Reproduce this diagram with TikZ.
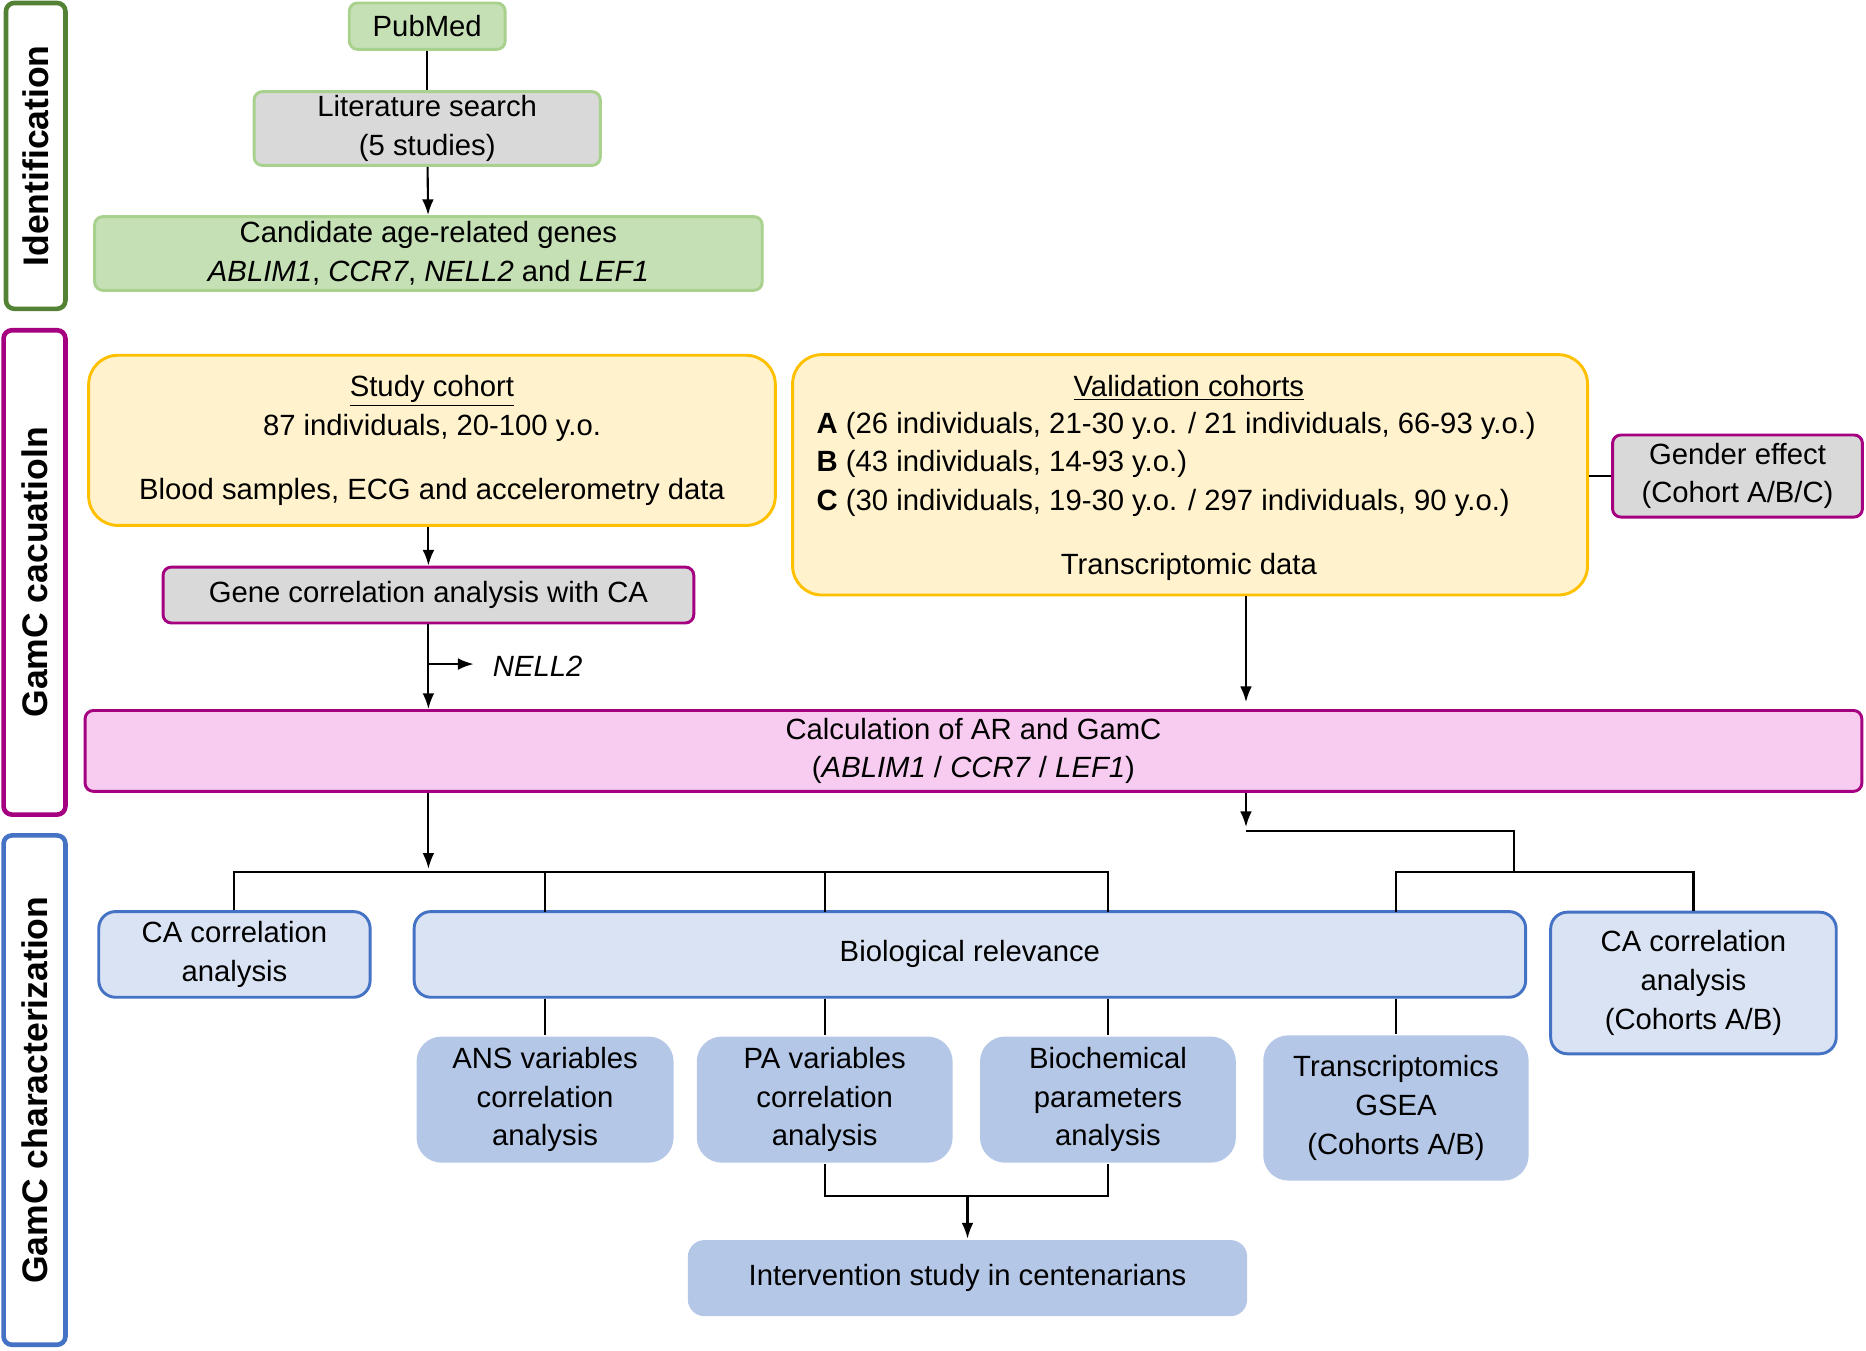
\documentclass[tikz,border=0pt]{standalone}
\usepackage{fontspec}
\setmainfont{Liberation Sans}
\usetikzlibrary{arrows.meta,calc,positioning}
\definecolor{gfill}{HTML}{C5E0B4}
\definecolor{gline}{HTML}{A9D18E}
\definecolor{gdark}{HTML}{548235}
\definecolor{grey}{HTML}{D9D9D9}
\definecolor{yfill}{HTML}{FFF2CC}
\definecolor{yline}{HTML}{FFC000}
\definecolor{mag}{HTML}{A5007F}
\definecolor{pfill}{HTML}{F8CCF0}
\definecolor{bline}{HTML}{4472C4}
\definecolor{bfill}{HTML}{DAE3F3}
\definecolor{bdark}{HTML}{B4C7E7}

\begin{document}
\begin{tikzpicture}[x=0.02cm,y=-0.02cm,>=Latex,
  font=\fontsize{14}{18.5}\selectfont,
  sz/.style 2 args={minimum width=#1*0.02cm,minimum height=#2*0.02cm},
  box/.style={draw,line width=1.4pt,rounded corners=4pt,align=center,inner sep=0pt},
  idbox/.style={box,fill=gfill,draw=gline},
  gbox/.style={box,fill=grey,draw=mag},
  cohort/.style={box,fill=yfill,draw=yline,rounded corners=14pt},
  bbox/.style={box,fill=bfill,draw=bline,rounded corners=8pt},
  dbox/.style={box,fill=bdark,draw=none,rounded corners=12pt},
  side/.style={draw,line width=2.2pt,rounded corners=4pt,fill=white},
  stext/.style={rotate=90,font=\fontsize{17}{18}\selectfont\bfseries},
  conn/.style={line width=1pt}]
  \useasboundingbox (0,0) rectangle (1568,1135);

  % Side labels
  \node[side,draw=gdark,sz={50}{257}] (sid) at (30,131) {};
  \node[stext] at (sid) {Identification};
  \node[side,draw=mag,sz={52}{407}] (scal) at (29,481) {};
  \node[stext] at (scal) {GamC cacuatioln};
  \node[side,draw=bline,sz={52}{428}] (schar) at (29,916) {};
  \node[stext] at (schar) {GamC characterization};

  % Identification
  \node[idbox,sz={131}{39}] (pub) at (359,22) {PubMed};
  \node[idbox,fill=grey,sz={291}{62}] (lit) at (359,108) {Literature search\\(5 studies)};
  \node[idbox,sz={561}{62}] (cand) at (360,213)
    {Candidate age-related genes\\\textit{ABLIM1}, \textit{CCR7}, \textit{NELL2} and \textit{LEF1}};
  \draw[conn] (pub) -- (lit);
  \draw[conn,->] (lit) -- (cand);

  % Calculation
  \node[cohort,sz={577}{143}] (study) at (363,370)
    {\underline{Study cohort}\\87 individuals, 20-100 y.o.\\[12pt]Blood samples, ECG and accelerometry data};
  \node[cohort,sz={668}{202}] (valid) at (1000,399) {};
  \node (vtitle) at (999,326) {\underline{Validation cohorts}};
  \node[anchor=north west,align=left] (vlist) at (680,340)
    {\textbf{A} (26 individuals, 21-30 y.o. / 21 individuals, 66-93 y.o.)\\
     \textbf{B} (43 individuals, 14-93 y.o.)\\
     \textbf{C} (30 individuals, 19-30 y.o. / 297 individuals, 90 y.o.)};
  \node (vdata) at (999,476) {Transcriptomic data};
  \node[gbox,sz={210}{69}] (gender) at (1460,400) {Gender effect\\(Cohort A/B/C)};
  \draw[conn] (valid.east |- gender) -- (gender);
  \node[gbox,sz={446}{47}] (gene) at (360,500) {Gene correlation analysis with CA};
  \node[box,fill=pfill,draw=mag,sz={1493}{68}] (calc) at (818,631)
    {Calculation of AR and GamC\\(\textit{ABLIM1} / \textit{CCR7} / \textit{LEF1})};
  \draw[conn,->] (study.south -| gene) -- (gene);
  \draw[conn,->] (gene) -- (gene.south |- calc.north);
  \coordinate (nel) at (360,558);
  \node[anchor=west] (nell) at (408,560) {\textit{NELL2}};
  \draw[conn,->] (nel) -- (398,558);
  \draw[conn,->] (valid.south -| 1047,0) -- (1047,590);

  % Characterization
  \node[bbox,sz={228}{72}] (cal) at (197,802) {CA correlation\\analysis};
  \node[bbox,sz={934}{72}] (bio) at (815,802) {Biological relevance};
  \node[bbox,sz={240}{119}] (car) at (1423,826) {CA correlation\\analysis\\(Cohorts A/B)};
  \node[dbox,sz={216}{106}] (ans) at (458,924) {ANS variables\\correlation\\analysis};
  \node[dbox,sz={215}{106}] (pa) at (693,924) {PA variables\\correlation\\analysis};
  \node[dbox,sz={215}{106}] (bch) at (931,924) {Biochemical\\parameters\\analysis};
  \node[dbox,sz={223}{122}] (trn) at (1173,931) {Transcriptomics\\GSEA\\(Cohorts A/B)};
  \node[dbox,sz={470}{64},rounded corners=8pt] (int) at (813,1074) {Intervention study in centenarians};

  \draw[conn,->] (calc.south -| 360,0) -- (360,730);
  \draw[conn] (cal.north) |- (931,733) -- (931,766);
  \foreach \x in {458,693} \draw[conn] (\x,733) -- (\x,766);
  \draw[conn,->] (calc.south -| 1047,0) -- (1047,695);
  \draw[conn] (1047,698) -| (1272,733);
  \draw[conn] (trn.north |- bio.south) -- (trn.north);
  \draw[conn] (1173,766) |- (car.north |- 0,733) -- (car.north);
  \foreach \n in {ans,pa,bch} \draw[conn] (\n.north |- bio.south) -- (\n.north);
  \draw[conn] (pa.south) |- (bch.south |- 0,1005) -- (bch.south);
  \draw[conn,->] (int.north |- 0,1005) -- (int.north);
\end{tikzpicture}
\end{document}
